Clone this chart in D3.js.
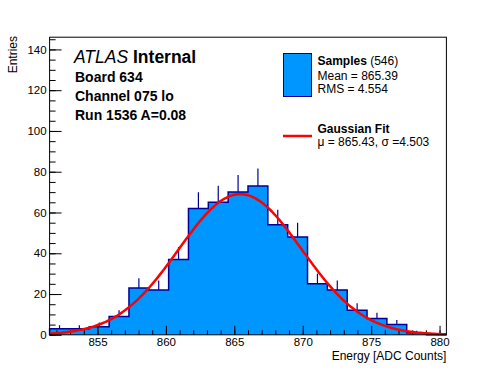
<!DOCTYPE html>
<html>
<head>
<meta charset="utf-8">
<script src="https://cdn.jsdelivr.net/npm/d3@7"></script>
<style>
    body { margin: 0; background: #fff; }
    svg { display: block; font-family: "Liberation Sans", Arial, Helvetica, sans-serif; }
</style>
</head>
<body>
<div id="chart"></div>
<script>
// histogram: 20 bins between binLow and binHigh, contents
const binLow = 851.5;
const binHigh = 880.5;
const binCounts = [3, 3, 4, 9, 23, 22, 37, 62, 65, 70, 73, 54, 48, 25, 22, 12, 8, 5, 1, 0];

const xTicks = [855, 860, 865, 870, 875, 880];
const yTicks = [0, 20, 40, 60, 80, 100, 120, 140];
const yMax = 146;

// gaussian fit result
const fitConstant = 69.0;
const fitMean = 865.43;
const fitSigma = 4.503;

const infoLines = ["Board 634", "Channel 075 lo", "Run 1536 A=0.08"];
const sampleCount = 546;
const sampleStats = ["Mean = 865.39", "RMS = 4.554"];
const fitStats = "\u03bc = 865.43, \u03c3 =4.503";

class FitHistogram {
    constructor(parentElement, config) {
        this.parentElement = parentElement;
        this.config = {
            containerWidth: config.containerWidth || 496,
            containerHeight: config.containerHeight || 372,
            margin: config.margin || { top: 37.2, right: 49.6, bottom: 37.2, left: 49.6 },
            fillColor: config.fillColor || '#0096ff',
            lineColor: config.lineColor || '#000099',
            fitColor: config.fitColor || '#ff0000'
        };
        this.initVis();
    }

    initVis() {
        let vis = this;

        vis.width = vis.config.containerWidth - vis.config.margin.left - vis.config.margin.right;
        vis.height = vis.config.containerHeight - vis.config.margin.top - vis.config.margin.bottom;

        vis.svg = d3.select(vis.parentElement)
            .append('svg')
            .attr('width', vis.config.containerWidth)
            .attr('height', vis.config.containerHeight);

        vis.chart = vis.svg.append('g')
            .attr('transform', `translate(${vis.config.margin.left},${vis.config.margin.top})`);

        vis.xScale = d3.scaleLinear().domain([binLow, binHigh]).range([0, vis.width]);
        vis.yScale = d3.scaleLinear().domain([0, yMax]).range([vis.height, 0]);

        const binWidth = (binHigh - binLow) / binCounts.length;
        vis.bins = binCounts.map((n, i) => ({
            x0: binLow + i * binWidth,
            x1: binLow + (i + 1) * binWidth,
            n: n
        }));

        vis.renderVis();
    }

    renderVis() {
        let vis = this;
        const x = vis.xScale, y = vis.yScale;

        // step outline of the histogram
        let pts = [[binLow, 0]];
        vis.bins.forEach(b => pts.push([b.x0, b.n]));
        pts.push([binHigh, vis.bins[vis.bins.length - 1].n]);
        pts.push([binHigh, 0]);

        const step = d3.line()
            .x(d => x(d[0]))
            .y(d => y(d[1]))
            .curve(d3.curveStepAfter);

        vis.chart.append('path')
            .attr('d', step(pts))
            .attr('fill', vis.config.fillColor)
            .attr('stroke', vis.config.lineColor)
            .attr('stroke-width', 1.5);

        // error bars (only the upper half shows above the fill)
        vis.chart.selectAll('.err')
            .data(vis.bins.filter(b => b.n > 0))
            .enter()
            .append('line')
            .attr('class', 'err')
            .attr('x1', d => x((d.x0 + d.x1) / 2))
            .attr('x2', d => x((d.x0 + d.x1) / 2))
            .attr('y1', d => y(d.n))
            .attr('y2', d => y(d.n + Math.sqrt(d.n)))
            .attr('stroke', vis.config.lineColor)
            .attr('stroke-width', 1.2);

        // axes, ROOT style ticks inside the frame
        const xMajor = d3.axisBottom(x).tickValues(xTicks).tickSizeInner(-9).tickSizeOuter(0).tickPadding(3);
        const xMinor = d3.axisBottom(x).tickValues(d3.range(852, 881)).tickSizeInner(-4.5).tickSizeOuter(0).tickFormat('');
        const yMajor = d3.axisLeft(y).tickValues(yTicks).tickSizeInner(-12).tickSizeOuter(0).tickPadding(3);
        const yMinor = d3.axisLeft(y).tickValues(d3.range(0, 146, 5)).tickSizeInner(-6).tickSizeOuter(0).tickFormat('');

        [[xMinor, true], [xMajor, true], [yMinor, false], [yMajor, false]].forEach(([ax, isX]) => {
            const g = vis.chart.append('g')
                .attr('transform', isX ? `translate(0,${vis.height})` : null)
                .call(ax);
            g.select('.domain').remove();
            g.selectAll('line').attr('stroke', '#000');
            g.selectAll('text')
                .attr('fill', '#000')
                .style('font-size', '11.5px')
                .style('font-family', '"Liberation Sans", Arial, sans-serif');
        });

        // gaussian fit curve from the fit parameters
        const fitX = d3.range(0, 201).map(i => binLow + i * (binHigh - binLow) / 200);
        const fitLine = d3.line()
            .x(d => x(d))
            .y(d => y(fitConstant * Math.exp(-0.5 * Math.pow((d - fitMean) / fitSigma, 2))));

        vis.chart.append('path')
            .attr('d', fitLine(fitX))
            .attr('fill', 'none')
            .attr('stroke', vis.config.fitColor)
            .attr('stroke-width', 2.5);

        // frame
        vis.chart.append('rect')
            .attr('width', vis.width)
            .attr('height', vis.height)
            .attr('fill', 'none')
            .attr('stroke', '#000')
            .attr('stroke-width', 1);

        // axis titles
        vis.svg.append('text')
            .attr('x', vis.config.margin.left + vis.width)
            .attr('y', 360)
            .attr('text-anchor', 'end')
            .style('font-size', '12px')
            .text('Energy [ADC Counts]');

        vis.svg.append('text')
            .attr('transform', 'translate(17,36) rotate(-90)')
            .attr('text-anchor', 'end')
            .style('font-size', '12px')
            .text('Entries');

        // ATLAS label block
        const title = vis.svg.append('text')
            .attr('x', 74)
            .attr('y', 63)
            .style('font-size', '17.5px');
        title.append('tspan').style('font-style', 'italic').text('ATLAS');
        title.append('tspan').style('font-weight', 'bold').text(' Internal');

        vis.svg.selectAll('.info')
            .data(infoLines)
            .enter()
            .append('text')
            .attr('class', 'info')
            .attr('x', 75)
            .attr('y', (d, i) => 82 + i * 19.2)
            .style('font-size', '14px')
            .style('font-weight', 'bold')
            .text(d => d);

        // legend
        const leg = vis.svg.append('g');
        leg.append('rect')
            .attr('x', 283.5).attr('y', 53.5)
            .attr('width', 28).attr('height', 43)
            .attr('fill', vis.config.fillColor)
            .attr('stroke', vis.config.lineColor)
            .attr('stroke-width', 1);

        const sampTitle = leg.append('text')
            .attr('x', 317.5).attr('y', 65)
            .style('font-size', '12px');
        sampTitle.append('tspan').style('font-weight', 'bold').text('Samples');
        sampTitle.append('tspan').text(` (${sampleCount})`);

        leg.selectAll('.stat')
            .data(sampleStats)
            .enter()
            .append('text')
            .attr('class', 'stat')
            .attr('x', 317.5)
            .attr('y', (d, i) => 80 + i * 13.3)
            .style('font-size', '12px')
            .text(d => d);

        leg.append('line')
            .attr('x1', 283).attr('x2', 312)
            .attr('y1', 136).attr('y2', 136)
            .attr('stroke', vis.config.fitColor)
            .attr('stroke-width', 2.5);

        leg.append('text')
            .attr('x', 317.5).attr('y', 132.5)
            .style('font-size', '12px')
            .style('font-weight', 'bold')
            .text('Gaussian Fit');

        leg.append('text')
            .attr('x', 317.5).attr('y', 145.5)
            .style('font-size', '12px')
            .text(fitStats);
    }
}

new FitHistogram('#chart', {});
</script>
</body>
</html>
